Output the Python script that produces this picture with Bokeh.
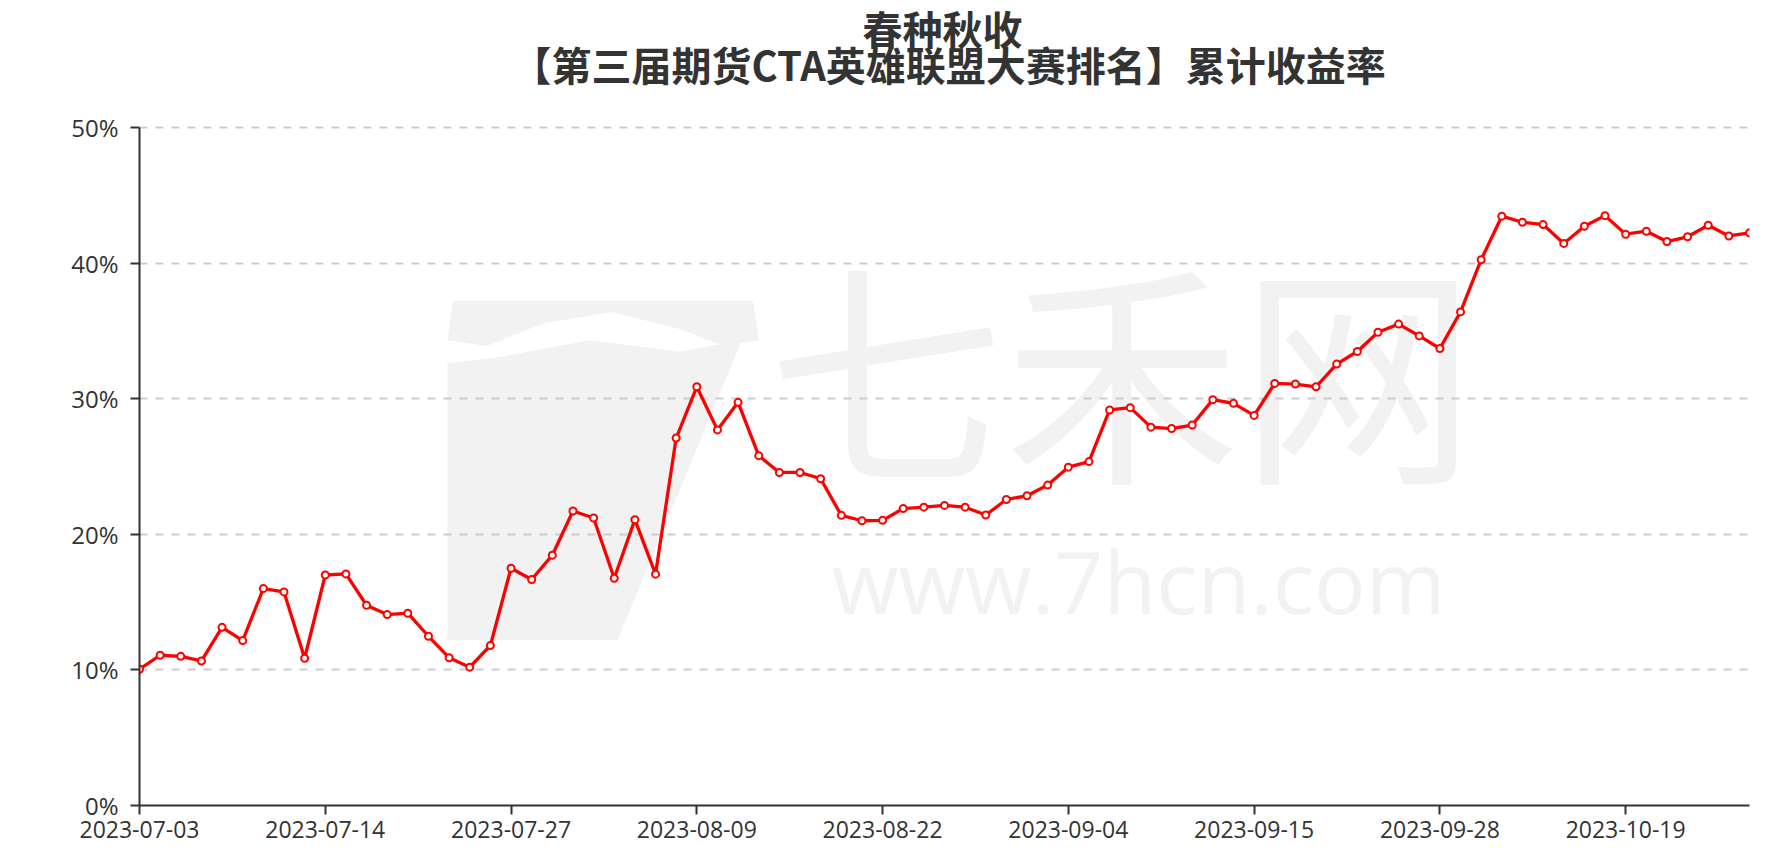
from bokeh.plotting import figure
from bokeh.models import Range1d, FixedTicker, PrintfTickFormatter
from bokeh.core.properties import value
from bokeh.embed import file_html
from bokeh.resources import INLINE

dates = [
    "2023-07-03", "2023-07-04", "2023-07-05", "2023-07-06", "2023-07-07",
    "2023-07-10", "2023-07-11", "2023-07-12", "2023-07-13", "2023-07-14",
    "2023-07-17", "2023-07-18", "2023-07-19", "2023-07-20", "2023-07-21",
    "2023-07-24", "2023-07-25", "2023-07-26", "2023-07-27", "2023-07-28",
    "2023-07-31", "2023-08-01", "2023-08-02", "2023-08-03", "2023-08-04",
    "2023-08-07", "2023-08-08", "2023-08-09", "2023-08-10", "2023-08-11",
    "2023-08-14", "2023-08-15", "2023-08-16", "2023-08-17", "2023-08-18",
    "2023-08-21", "2023-08-22", "2023-08-23", "2023-08-24", "2023-08-25",
    "2023-08-28", "2023-08-29", "2023-08-30", "2023-08-31", "2023-09-01",
    "2023-09-04", "2023-09-05", "2023-09-06", "2023-09-07", "2023-09-08",
    "2023-09-11", "2023-09-12", "2023-09-13", "2023-09-14", "2023-09-15",
    "2023-09-18", "2023-09-19", "2023-09-20", "2023-09-21", "2023-09-22",
    "2023-09-25", "2023-09-26", "2023-09-27", "2023-09-28", "2023-10-09",
    "2023-10-10", "2023-10-11", "2023-10-12", "2023-10-13", "2023-10-16",
    "2023-10-17", "2023-10-18", "2023-10-19", "2023-10-20", "2023-10-23",
    "2023-10-24", "2023-10-25", "2023-10-26", "2023-10-27",
]

returns = [
    10.05, 11.08, 11.0, 10.66, 13.14, 12.16, 16.0, 15.75, 10.86, 17.0,
    17.08, 14.77, 14.08, 14.18, 12.48, 10.9, 10.2, 11.8, 17.5, 16.67,
    18.46, 21.72, 21.2, 16.76, 21.08, 17.06, 27.1, 30.88, 27.7, 29.73,
    25.8, 24.56, 24.56, 24.1, 21.4, 21.0, 21.03, 21.9, 22.0, 22.13,
    22.0, 21.42, 22.57, 22.84, 23.63, 24.95, 25.36, 29.17, 29.34, 27.9,
    27.8, 28.06, 29.93, 29.66, 28.77, 31.13, 31.08, 30.88, 32.55, 33.48,
    34.9, 35.5, 34.63, 33.7, 36.4, 40.25, 43.46, 43.01, 42.84, 41.45,
    42.72, 43.5, 42.13, 42.35, 41.59, 41.94, 42.79, 42.0, 42.23,
]

y_ticks = [0, 10, 20, 30, 40, 50]
label_step = 9

title_line1 = "春种秋收"
title_line2 = "【第三届期货CTA英雄联盟大赛排名】累计收益率"

idx = list(range(len(dates)))

# frame spans the whole height above the x axis; the top part holds the titles
y_top = 50 * 805 / 678

p = figure(width=1767, height=856, output_backend="svg", toolbar_location=None,
           x_range=Range1d(0, len(dates) - 1), y_range=Range1d(0, y_top),
           min_border_left=139, min_border_right=18, min_border_bottom=51,
           min_border_top=0)
p.outline_line_color = None
p.background_fill_color = "white"

# titles
for txt, ty, tx in ((title_line1, 57.35, 38.9), (title_line2, 54.7, 39.2)):
    p.text(x=[tx], y=[ty], text=[txt], text_align="center",
           text_baseline="middle", text_font_size="40px",
           text_font=value("Noto Sans CJK SC"), text_font_style="bold",
           text_color="#333333")

# watermark (decoration)
wm = "#f2f2f2"
pa = p.patch([15.19, 29.73, 30.01, 28.36, 26.17, 22.87, 19.58, 16.84, 14.92],
             [37.23, 37.23, 34.31, 33.89, 35.14, 36.39, 35.56, 33.89, 34.31],
             fill_color=wm, line_color=None)
pb = p.patch([14.92, 17.39, 21.78, 26.17, 29.18, 23.15, 14.92],
             [32.64, 33.06, 34.31, 33.47, 34.31, 12.19, 12.19],
             fill_color=wm, line_color=None)
tw1 = p.text(x=[47.6], y=[32.6], text=["七禾网"], text_font=value("Noto Sans CJK SC"),
             text_font_size="236px", text_color=wm, text_align="center",
             text_baseline="middle")
tw2 = p.text(x=[48.4], y=[16.6], text=["www.7hcn.com"], text_font=value("Open Sans"),
             text_font_size="86px", text_color=wm, text_align="center",
             text_baseline="middle")
for r in (pa, pb, tw1, tw2):
    r.level = "image"

# series
p.line(idx, returns, line_color="#ff0000", line_width=3.3)
p.scatter(idx, returns, size=7, marker="circle", fill_color="white",
          line_color="#ff0000", line_width=2)

# axes
p.xgrid.grid_line_color = None
p.ygrid.grid_line_color = "#cccccc"
p.ygrid.grid_line_dash = "8 8"
p.ygrid.grid_line_width = 2

p.yaxis.ticker = FixedTicker(ticks=y_ticks)
p.yaxis.formatter = PrintfTickFormatter(format="%d%%")
p.yaxis.bounds = (0, 50)
p.xaxis.ticker = FixedTicker(ticks=idx[::label_step])
p.xaxis.major_label_overrides = {i: dates[i] for i in idx[::label_step]}

for ax in (p.xaxis[0], p.yaxis[0]):
    ax.axis_line_color = "#333333"
    ax.axis_line_width = 2
    ax.major_tick_line_color = "#333333"
    ax.major_tick_line_width = 2
    ax.major_tick_out = 9
    ax.major_tick_in = 0
    ax.minor_tick_line_color = None
    ax.major_label_text_font = "Open Sans"
    ax.major_label_text_font_size = "23px"
    ax.major_label_text_color = "#333333"
p.yaxis.major_label_text_font_size = "24px"
p.yaxis.major_label_standoff = 12
p.xaxis.major_label_standoff = 6

open("out.html", "w").write(file_html(p, INLINE))
